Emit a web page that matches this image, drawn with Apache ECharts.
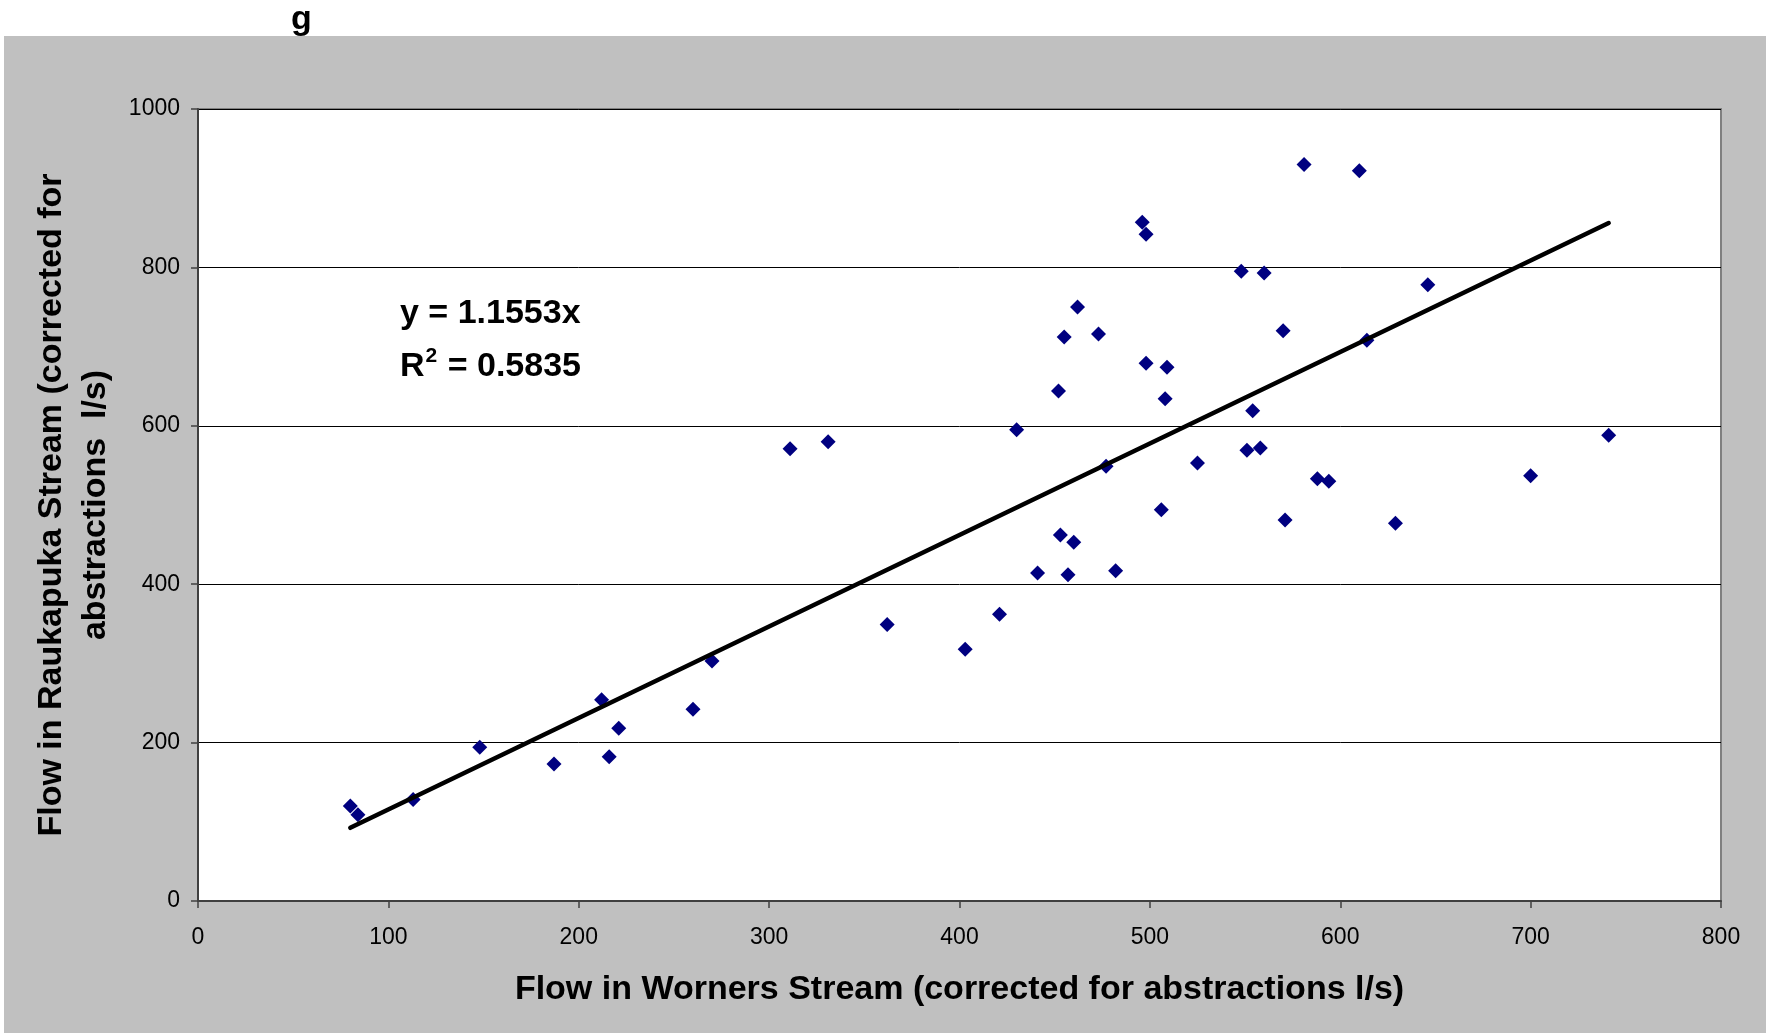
<!DOCTYPE html>
<html>
<head>
<meta charset="utf-8">
<script src="https://cdn.jsdelivr.net/npm/echarts@6/dist/echarts.min.js"></script>
<style>
  html, body { margin: 0; padding: 0; background: #ffffff; }
  #chart { width: 1766px; height: 1035px; }
</style>
</head>
<body>
<div id="chart"></div>
<script>
// Worners Stream flow (x) against Raukapuka Stream flow (y), l/s
const worners = [80, 84, 113, 148, 187, 212, 216, 221, 260, 270, 311, 331, 362, 403, 421, 430, 441, 452, 453, 455,
                 457, 460, 462, 473, 477, 482, 496, 498, 498, 506, 508, 509, 525, 548, 551, 554, 558, 560, 570, 571,
                 581, 588, 594, 610, 614, 629, 646, 700, 741];
const raukapuka = [120, 109, 128, 194, 173, 254, 182, 218, 242, 303, 571, 580, 349, 318, 362, 595, 414, 644, 462, 712,
                   412, 453, 750, 716, 549, 417, 857, 842, 679, 494, 634, 674, 553, 795, 569, 619, 572, 793, 720, 481,
                   930, 533, 530, 922, 708, 477, 778, 537, 588];

// Linear trend through the origin
const slope = 1.1553;
const rSquared = 0.5835;

const xTicks = { min: 0, max: 800, interval: 100 };
const yTicks = { min: 0, max: 1000, interval: 200 };

const points = worners.map((x, i) => [x, raukapuka[i]]);
const xLo = Math.min(...worners);
const xHi = Math.max(...worners);
const trend = [[xLo, slope * xLo], [xHi, slope * xHi]];

const FONT = '"Liberation Sans", Arial, sans-serif';

const chart = echarts.init(document.getElementById('chart'), null, { renderer: 'canvas' });

chart.setOption({
  backgroundColor: '#ffffff',
  animation: false,
  title: {
    text: 'g',
    left: 286,
    top: -2,
    textStyle: { fontFamily: FONT, fontWeight: 'bold', fontSize: 34, color: '#000' }
  },
  graphic: [
    {
      type: 'rect',
      z: -10,
      silent: true,
      shape: { x: 4, y: 36, width: 1762, height: 997 },
      style: { fill: '#c0c0c0' }
    },
    {
      type: 'text',
      z: 100,
      left: 400,
      top: 297,
      style: {
        text: 'y = ' + slope.toFixed(4) + 'x',
        font: 'bold 34px ' + FONT,
        fill: '#000'
      }
    },
    {
      type: 'text',
      z: 100,
      left: 400,
      top: 346,
      style: {
        text: '{b|R}{s|2}{b| = ' + rSquared.toFixed(4) + '}',
        fill: '#000',
        rich: {
          b: { font: 'bold 34px ' + FONT, fill: '#000', verticalAlign: 'bottom' },
          s: { font: 'bold 21px ' + FONT, fill: '#000', verticalAlign: 'top', padding: [0, 1, 17, 1] }
        }
      }
    }
  ],
  grid: {
    left: 198,
    top: 109,
    right: 45,
    bottom: 134,
    show: true,
    backgroundColor: '#ffffff',
    borderColor: '#808080',
    borderWidth: 2
  },
  xAxis: {
    type: 'value',
    min: xTicks.min,
    max: xTicks.max,
    interval: xTicks.interval,
    name: 'Flow in Worners Stream (corrected for abstractions l/s)',
    nameLocation: 'middle',
    nameGap: 72,
    nameTextStyle: { fontFamily: FONT, fontWeight: 'bold', fontSize: 34, color: '#000' },
    axisLine: { show: true, onZero: false, lineStyle: { color: '#404040', width: 2 } },
    axisTick: { show: true, inside: false, length: 7, lineStyle: { color: '#404040', width: 1.5 } },
    axisLabel: { fontFamily: FONT, fontSize: 23, color: '#000', margin: 25, formatter: v => String(v) },
    splitLine: { show: false }
  },
  yAxis: {
    type: 'value',
    min: yTicks.min,
    max: yTicks.max,
    interval: yTicks.interval,
    name: 'Flow in Raukapuka Stream (corrected for\nabstractions  l/s)',
    nameLocation: 'middle',
    nameRotate: 90,
    nameGap: 80,
    nameTextStyle: { fontFamily: FONT, fontWeight: 'bold', fontSize: 34, color: '#000', lineHeight: 44, align: 'center' },
    axisLine: { show: true, onZero: false, lineStyle: { color: '#404040', width: 2 } },
    axisTick: { show: true, inside: false, length: 7, lineStyle: { color: '#404040', width: 1.5 } },
    axisLabel: { fontFamily: FONT, fontSize: 23, color: '#000', margin: 18, formatter: v => String(v) },
    splitLine: { show: true, lineStyle: { color: '#000', width: 1 } }
  },
  series: [
    {
      name: 'Flow',
      type: 'scatter',
      data: points,
      symbol: 'diamond',
      symbolSize: 15,
      itemStyle: { color: '#000080', opacity: 1 },
      z: 3
    },
    {
      name: 'Linear trend',
      type: 'line',
      data: trend,
      showSymbol: false,
      symbol: 'none',
      lineStyle: { color: '#000', width: 4.5, cap: 'round' },
      z: 4
    }
  ]
});
</script>
</body>
</html>
